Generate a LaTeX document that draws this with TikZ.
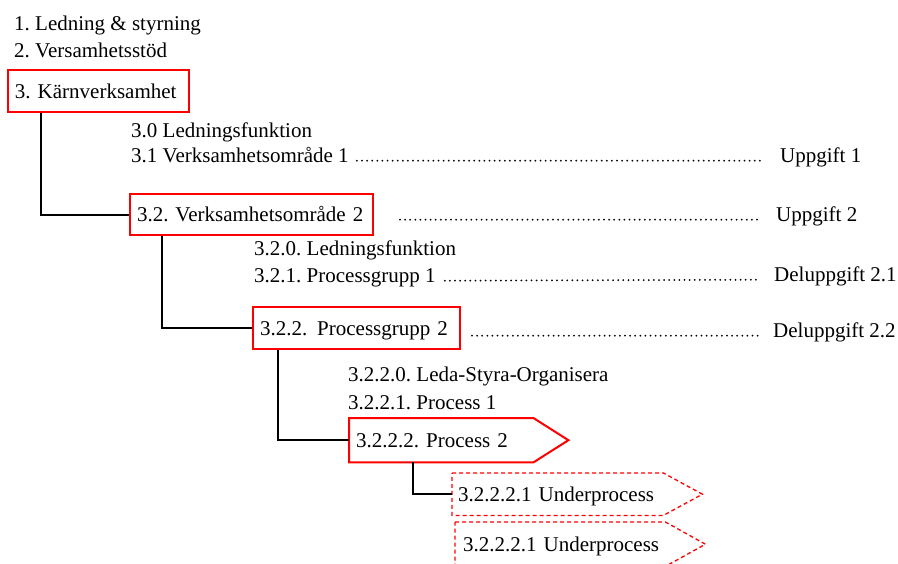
\documentclass[tikz,border=0pt]{standalone}
\usepackage{fontspec}
\setmainfont{Liberation Serif}
\usetikzlibrary{calc}
\frenchspacing
\begin{document}
\begin{tikzpicture}[x=1pt,y=-1pt,
  every node/.style={font=\fontsize{21pt}{25pt}\selectfont\frenchspacing, inner sep=0pt},
  lbl/.style={anchor=base west},
  redbox/.style={draw=red, line width=2pt, anchor=north west, inner xsep=7pt,
    inner ysep=0pt, text height=17pt, text depth=3pt, align=left},
  sigbox/.style={anchor=north west, inner xsep=7pt, inner ysep=0pt,
    text height=17pt, text depth=3pt, align=left},
  conn/.style={draw=black, line width=2pt},
  leader/.style={line width=2pt, line cap=round, dash pattern=on 0pt off 5.1pt},
  sigline/.style={draw=red, line width=2pt, line join=miter},
  sigdash/.style={draw=red, line width=1.3pt, dash pattern=on 4pt off 3pt}]
\useasboundingbox (0,0) rectangle (898,563);
\clip (0,0) rectangle (898,563);

% top level
\node[lbl] (l1) at (14,30) {1. Ledning \& styrning};
\node[lbl] (l2) at (14,57) {2. Versamhetsstöd};
\node[redbox, text width=167pt, minimum height=42pt] (k3) at (7,69) {\mbox{3. Kärnverksamhet}};

% level 3
\node[lbl] (t30) at (131,137) {3.0 Ledningsfunktion};
\node[lbl] (t31) at (131,162) {3.1 Verksamhetsområde 1};
\node[redbox, text width=229pt, minimum height=41pt] (k32) at (129,193) {\mbox{3.2. Verksamhetsområde 2}};

% level 3.2
\node[lbl] (t320) at (254,255) {3.2.0. Ledningsfunktion};
\node[lbl] (t321) at (254,282) {3.2.1. Processgrupp 1};
\node[redbox, text width=193pt, minimum height=42pt] (k322) at (252,306) {\mbox{3.2.2.\hspace{10pt}Processgrupp 2}};

% level 3.2.2
\node[lbl] (t3220) at (348,381) {3.2.2.0. Leda-Styra-Organisera};
\node[lbl] (t3221) at (348,409) {3.2.2.1. Process 1};

% process 2 (solid arrow shape)
\node[sigbox, text width=170pt, minimum height=44pt] (p2) at (349,418) {\mbox{3.2.2.2. Process 2}};
\draw[sigline] (p2.north west) -- (p2.north east) -- ($(p2.east)+(35,0)$)
  -- (p2.south east) -- (p2.south west) -- cycle;

% sub-processes (dashed arrow shapes)
\node[sigbox, inner xsep=6pt, text width=199pt, minimum height=42pt] (u1) at (452,473) {\mbox{3.2.2.2.1 Underprocess}};
\draw[sigdash] (u1.north west) -- (u1.north east) -- ($(u1.east)+(39,0)$)
  -- (u1.south east) -- (u1.south west) -- cycle;
\node[sigbox, inner xsep=8pt, text width=194pt, minimum height=44pt] (u2) at (455,522) {\mbox{3.2.2.2.1 Underprocess}};
\draw[sigdash] (u2.north west) -- (u2.north east) -- ($(u2.east)+(40,0)$)
  -- (u2.south east) -- (u2.south west) -- cycle;

% tasks on the right
\node[lbl] (ug1) at (780,162) {Uppgift 1};
\node[lbl] (ug2) at (776,221) {Uppgift 2};
\node[lbl] (dg1) at (774,281) {Deluppgift 2.1};
\node[lbl] (dg2) at (773,337) {Deluppgift 2.2};

% hierarchy connectors
\draw[conn] ([xshift=34pt]k3.south west) |- (k32.west);
\draw[conn] ([xshift=33pt]k32.south west) |- (k322.west);
\draw[conn] ([xshift=26pt]k322.south west) |- (p2.west);
\draw[conn] ([xshift=64pt]p2.south west) |- (u1.west);

% dotted leaders
\coordinate (dend) at (760,0);
\draw[leader] ($(t31.base east)+(8,-1.3)$) -- ($(dend |- ug1.base)+(0,-1.3)$);
\draw[leader] ($(k32.east |- ug2.base)+(26,-1.3)$) -- ($(dend |- ug2.base)+(0,-1.3)$);
\draw[leader] ($(t321.base east)+(9,-1.3)$) -- ($(dend |- dg1.base)+(0,-1.3)$);
\draw[leader] ($(k322.east |- dg2.base)+(11,-1.3)$) -- ($(dend |- dg2.base)+(0,-1.3)$);
\end{tikzpicture}
\end{document}
